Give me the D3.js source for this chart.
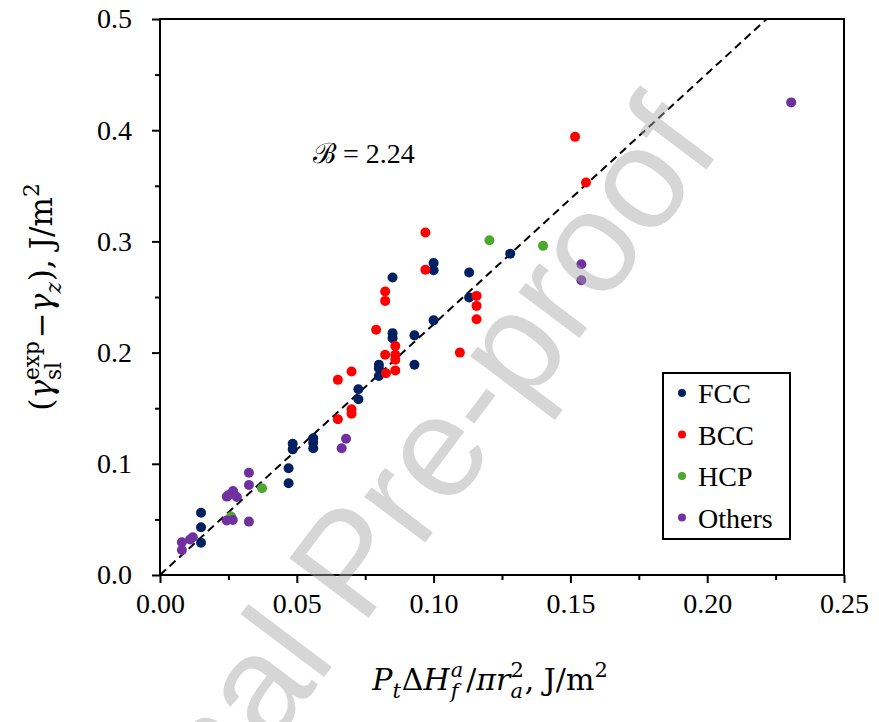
<!DOCTYPE html>
<html>
<head>
<meta charset="utf-8">
<script src="https://cdn.jsdelivr.net/npm/d3@7"></script>
<style>
  body { margin: 0; background: #fff; }
  svg { display: block; }
</style>
</head>
<body>
<div id="wrapper"></div>
<script>
// data
const fccX = [0.015, 0.015, 0.015, 0.047, 0.047, 0.0485, 0.0485, 0.056, 0.056, 0.056, 0.0725, 0.0725, 0.080, 0.080, 0.080, 0.085, 0.085, 0.085, 0.093, 0.093, 0.100, 0.100, 0.100, 0.113, 0.113, 0.128]
const fccY = [0.056, 0.043, 0.029, 0.096, 0.0825, 0.118, 0.113, 0.123, 0.119, 0.114, 0.167, 0.158, 0.189, 0.186, 0.179, 0.2175, 0.213, 0.2675, 0.2155, 0.189, 0.229, 0.2805, 0.274, 0.272, 0.2495, 0.289]
const bccX = [0.065, 0.065, 0.070, 0.070, 0.070, 0.079, 0.0823, 0.0823, 0.0823, 0.0826, 0.086, 0.086, 0.086, 0.086, 0.097, 0.097, 0.1096, 0.1157, 0.1157, 0.1157, 0.1517, 0.1557]
const bccY = [0.140, 0.1755, 0.149, 0.145, 0.183, 0.2205, 0.255, 0.2465, 0.198, 0.1815, 0.206, 0.198, 0.1935, 0.184, 0.308, 0.2745, 0.200, 0.251, 0.242, 0.230, 0.394, 0.353]
const hcpX = [0.026, 0.0373, 0.1204, 0.140]
const hcpY = [0.0525, 0.078, 0.301, 0.296]
const othersX = [0.008, 0.008, 0.012, 0.011, 0.0244, 0.0267, 0.0281, 0.0252, 0.0244, 0.0266, 0.0325, 0.0325, 0.0325, 0.068, 0.0664, 0.154, 0.154, 0.2307]
const othersY = [0.0295, 0.0225, 0.034, 0.032, 0.0705, 0.0756, 0.0702, 0.072, 0.049, 0.0495, 0.092, 0.081, 0.048, 0.1225, 0.114, 0.2795, 0.265, 0.425]

const seriesNames = ['FCC', 'BCC', 'HCP', 'Others']
const seriesColors = ['#002060', '#ff0000', '#4ea72e', '#7030a0']
const seriesX = [fccX, bccX, hcpX, othersX]
const seriesY = [fccY, bccY, hcpY, othersY]

const xTicks = [0, 0.05, 0.10, 0.15, 0.20, 0.25]
const yTicks = [0, 0.1, 0.2, 0.3, 0.4, 0.5]
const fitSlope = 2.255   // dashed line drawn as y = slope * x
const fitLabel = '2.24'

const serif = '"Liberation Serif", "DejaVu Serif", serif'
const mathFont = '"DejaVu Serif", "Liberation Serif", serif'

let dimensions = {
    width: 879,
    height: 722,
    margin: { top: 19, right: 35, bottom: 147, left: 160 },
}
dimensions.boundedWidth = dimensions.width - dimensions.margin.left - dimensions.margin.right
dimensions.boundedHeight = dimensions.height - dimensions.margin.top - dimensions.margin.bottom

const wrapper = d3.select('#wrapper')
    .append('svg')
    .attr('width', dimensions.width)
    .attr('height', dimensions.height)

wrapper.append('rect')
    .attr('width', dimensions.width)
    .attr('height', dimensions.height)
    .attr('fill', '#fff')

const bounds = wrapper.append('g')
    .attr('transform', `translate(${dimensions.margin.left},${dimensions.margin.top})`)

const xScale = d3.scaleLinear().domain([0, 0.25]).range([0, dimensions.boundedWidth])
const yScale = d3.scaleLinear().domain([0, 0.5]).range([dimensions.boundedHeight, 0])

// axes with minor ticks
const xMinor = d3.axisBottom(xScale).tickValues(d3.range(0.025, 0.25, 0.05)).tickSize(5).tickFormat('')
const xMajor = d3.axisBottom(xScale).tickValues(xTicks).tickSize(8).tickPadding(10).tickFormat(d3.format('.2f'))
const yMinor = d3.axisLeft(yScale).tickValues(d3.range(0.05, 0.5, 0.1)).tickSize(5).tickFormat('')
const yMajor = d3.axisLeft(yScale).tickValues(yTicks).tickSize(8).tickPadding(20).tickFormat(d3.format('.1f'))

const styleAxis = g => {
    g.select('.domain').remove()
    g.selectAll('line').attr('stroke', '#000').attr('stroke-width', 2)
    g.selectAll('text').attr('font-family', serif).attr('font-size', 28).attr('fill', '#000')
}

bounds.append('g').attr('transform', `translate(0,${dimensions.boundedHeight})`).call(xMinor).call(styleAxis)
bounds.append('g').attr('transform', `translate(0,${dimensions.boundedHeight})`).call(xMajor).call(styleAxis)
bounds.append('g').call(yMinor).call(styleAxis)
bounds.append('g').call(yMajor).call(styleAxis)

// frame
bounds.append('rect')
    .attr('width', dimensions.boundedWidth)
    .attr('height', dimensions.boundedHeight)
    .attr('fill', 'none')
    .attr('stroke', '#000')
    .attr('stroke-width', 2)

// dashed fit line
const lineEnd = 0.5 / fitSlope
bounds.append('line')
    .attr('x1', xScale(0)).attr('y1', yScale(0))
    .attr('x2', xScale(lineEnd)).attr('y2', yScale(fitSlope * lineEnd))
    .attr('stroke', '#000')
    .attr('stroke-width', 2)
    .attr('stroke-dasharray', '8,5')

// points
seriesNames.forEach((name, i) => {
    const pts = seriesX[i].map((x, j) => ({ x, y: seriesY[i][j] }))
    bounds.append('g')
        .selectAll('circle')
        .data(pts)
        .join('circle')
        .attr('cx', d => xScale(d.x))
        .attr('cy', d => yScale(d.y))
        .attr('r', 5)
        .attr('fill', seriesColors[i])
})

// one text element, tspans placed by measured widths; sub / sup can stack
function mathLabel(parent, pieces, size) {
    const probe = parent.append('text').attr('font-family', mathFont)
    let x = 0
    let lastStart = 0
    const placed = pieces.map(p => {
        const fs = p.shift ? size * 0.7 : size
        const dy = p.shift === 'sub' ? size * 0.28 : p.shift === 'sup' ? -size * 0.42 : 0
        probe.attr('font-size', fs).attr('font-style', p.italic ? 'italic' : 'normal').text(p.t)
        const w = probe.node().getComputedTextLength() + (p.pad || 0)
        const start = p.stack ? lastStart : x
        x = p.stack ? Math.max(x, start + w) : start + w
        lastStart = start
        return { ...p, fs, dy, start }
    })
    probe.remove()
    const text = parent.append('text')
        .attr('font-family', mathFont)
        .attr('fill', '#000')
    placed.forEach(p => {
        text.append('tspan')
            .attr('x', p.start)
            .attr('y', p.dy)
            .attr('font-size', p.fs)
            .attr('font-style', p.italic ? 'italic' : 'normal')
            .text(p.t)
    })
    return { text, width: x }
}

// x axis label
const xLab = mathLabel(wrapper, [
    { t: 'P', italic: true },
    { t: 't', italic: true, shift: 'sub', pad: 1 },
    { t: 'Δ' },
    { t: 'H', italic: true, pad: 1 },
    { t: 'f', italic: true, shift: 'sub' },
    { t: 'a', italic: true, shift: 'sup', stack: true, pad: 3 },
    { t: '/' },
    { t: 'πr', italic: true },
    { t: 'a', italic: true, shift: 'sub' },
    { t: '2', shift: 'sup', stack: true, pad: 1 },
    { t: ', J/m' },
    { t: '2', shift: 'sup' },
], 30)
xLab.text.attr('transform', `translate(${490 - xLab.width / 2},690)`)

// y axis label
const yLab = mathLabel(wrapper, [
    { t: '(' },
    { t: 'γ', italic: true },
    { t: 'sl', shift: 'sub' },
    { t: 'exp', shift: 'sup', stack: true, pad: 3 },
    { t: '−' },
    { t: 'γ', italic: true },
    { t: 'z', italic: true, shift: 'sub', pad: 1 },
    { t: '), J/m' },
    { t: '2', shift: 'sup' },
], 31)
yLab.text.attr('transform', `translate(52,${297 + yLab.width / 2}) rotate(-90)`)

// annotation
wrapper.append('text')
    .attr('x', 313)
    .attr('y', 163)
    .attr('font-family', serif)
    .attr('font-size', 28)
    .attr('fill', '#000')
    .attr('xml:space', 'preserve')
    .text(`ℬ = ${fitLabel}`)

// legend
const legend = wrapper.append('g').attr('transform', 'translate(663,373)')
legend.append('rect')
    .attr('width', 127)
    .attr('height', 166)
    .attr('fill', '#fff')
    .attr('stroke', '#000')
    .attr('stroke-width', 2)
seriesNames.forEach((name, i) => {
    const row = legend.append('g').attr('transform', `translate(0,${20 + i * 41.5})`)
    row.append('circle').attr('cx', 19).attr('cy', 0).attr('r', 4).attr('fill', seriesColors[i])
    row.append('text')
        .attr('x', 35)
        .attr('y', 10)
        .attr('font-family', serif)
        .attr('font-size', 28)
        .attr('fill', '#000')
        .text(name)
})

// watermark over everything
wrapper.append('text')
    .attr('transform', 'translate(388,592) rotate(-53)')
    .attr('text-anchor', 'middle')
    .attr('font-family', '"Liberation Sans", Arial, sans-serif')
    .attr('font-size', 144)
    .attr('fill', '#a6a6a6')
    .attr('opacity', 0.45)
    .text('Journal Pre-proof')
</script>
</body>
</html>
